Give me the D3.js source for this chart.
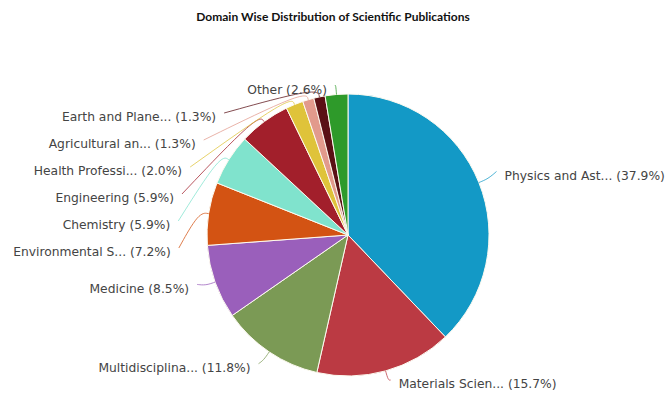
<!DOCTYPE html>
<html>
<head>
<meta charset="utf-8">
<script src="https://cdnjs.cloudflare.com/ajax/libs/d3/7.8.5/d3.min.js"></script>
<style>
  body { margin: 0; background: #fff; }
</style>
</head>
<body>
<div id="chart"></div>
<script>
// data, clockwise from 12 o'clock
const categories = ["Physics and Astronomy", "Materials Science", "Multidisciplinary",
                    "Medicine", "Environmental Science", "Chemistry", "Engineering",
                    "Health Professions", "Agricultural and Biological Sciences",
                    "Earth and Planetary Sciences", "Other"]
const shares = [37.9, 15.7, 11.8, 8.5, 7.2, 5.9, 5.9, 2.0, 1.3, 1.3, 2.6]
const colors = ["#1399c6", "#bb3a43", "#7b9a55", "#9a5fbb", "#d35313", "#80e3cd",
                "#a21f2b", "#dfc33a", "#e29a8c", "#5a1015", "#2e9a2a"]

const width = 665, height = 394
const cx = 348, cy = 235, radius = 141
const labelR = 160, pushedR = 174, spacing = 27, topY = 90, bottomY = 384

function truncate(s){
  return s.length > 15 ? s.slice(0, 15) + "..." : s
}

const svg = d3.select("#chart").append("svg")
  .attr("width", width)
  .attr("height", height)

svg.append("text")
  .attr("x", 333)
  .attr("y", 21)
  .attr("text-anchor", "middle")
  .attr("font-family", "Lato, 'Open Sans', sans-serif")
  .attr("font-weight", "bold")
  .attr("font-size", 12)
  .attr("fill", "#111")
  .text("Domain Wise Distribution of Scientific Publications")

const pie = d3.pie().sort(null).value(d => d)
const arcs = pie(shares)
const arc = d3.arc().innerRadius(0).outerRadius(radius)

const g = svg.append("g").attr("transform", `translate(${cx},${cy})`)

g.selectAll("path.slice")
  .data(arcs)
  .join("path")
    .attr("class", "slice")
    .attr("d", arc)
    .attr("fill", (d, i) => colors[i])
    .attr("stroke", "#fdfaf0")
    .attr("stroke-width", 1)

function polar(a, r){
  return [cx + r * Math.sin(a), cy - r * Math.cos(a)]
}

// label layout
const labels = arcs.map((d, i) => {
  const mid = (d.startAngle + d.endAngle) / 2
  const p = polar(mid, labelR)
  return {i: i, mid: mid, x: p[0], y: Math.min(p[1], bottomY),
          side: p[0] < cx ? -1 : 1, pushed: false}
})

// left side: stack downward from the top bound
const left = labels.filter(l => l.side < 0).sort((a, b) => a.y - b.y)
let prev = null
left.forEach(l => {
  if (l.y < topY) l.y = topY
  if (prev && l.y < prev.y + spacing){
    l.y = prev.y + spacing
    l.pushed = true
  }
  if (l.pushed){
    const dy = l.y - cy
    l.x = cx - Math.sqrt(Math.max(pushedR * pushedR - dy * dy, 0)) + 4
  }
  prev = l
})

const line = d3.line().curve(d3.curveBasis)

svg.selectAll("path.connector")
  .data(labels)
  .join("path")
    .attr("class", "connector")
    .attr("fill", "none")
    .attr("stroke", d => colors[d.i])
    .attr("stroke-opacity", 0.75)
    .attr("stroke-width", 1)
    .attr("d", d => {
      const p0 = polar(d.mid, radius)
      const p1 = polar(d.mid, radius + 10)
      return line([p0, p1, [d.x, d.y - 4]])
    })

svg.selectAll("text.label")
  .data(labels)
  .join("text")
    .attr("class", "label")
    .attr("x", d => d.x + d.side * 8)
    .attr("y", d => d.y)
    .attr("dy", "0.35em")
    .attr("text-anchor", d => d.side < 0 ? "end" : "start")
    .attr("font-family", "'DejaVu Sans', sans-serif")
    .attr("font-size", 12.3)
    .attr("fill", "#444")
    .text(d => truncate(categories[d.i]) + " (" + shares[d.i].toFixed(1) + "%)")
</script>
</body>
</html>
